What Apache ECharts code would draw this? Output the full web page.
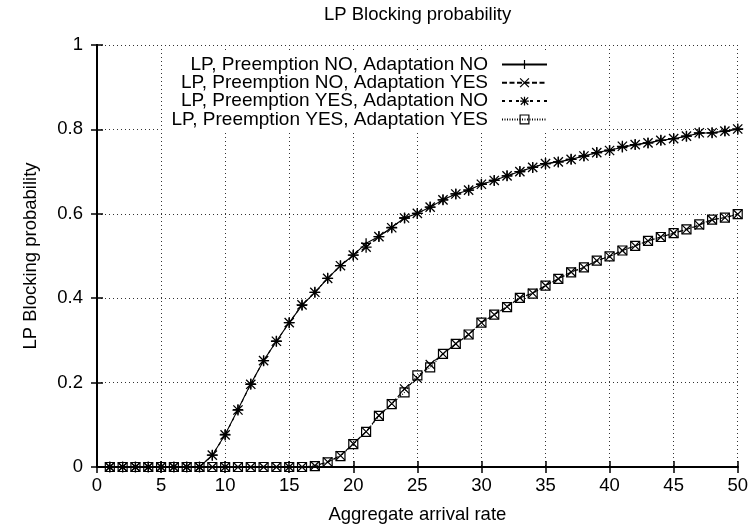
<!DOCTYPE html>
<html>
<head>
<meta charset="utf-8">
<title>LP Blocking probability</title>
<script src="https://cdn.jsdelivr.net/npm/echarts@6/dist/echarts.min.js"></script>
<style>
  html, body { margin: 0; padding: 0; background: #fff; }
  #chart { width: 751px; height: 529px; }
</style>
</head>
<body>
<div id="chart"></div>
<script>
// Aggregate arrival rate (x values)
const arrivalRates = [1, 2, 3, 4, 5, 6, 7, 8, 9, 10,
  11, 12, 13, 14, 15, 16, 17, 18, 19, 20,
  21, 22, 23, 24, 25, 26, 27, 28, 29, 30,
  31, 32, 33, 34, 35, 36, 37, 38, 39, 40,
  41, 42, 43, 44, 45, 46, 47, 48, 49, 50];

// LP blocking probability for each configuration
const preNoAdaptNo = [0, 0, 0, 0, 0, 0, 0, 0, 0.028, 0.077,
  0.136, 0.197, 0.252, 0.298, 0.342, 0.383, 0.414, 0.447, 0.477, 0.502,
  0.530, 0.546, 0.568, 0.590, 0.601, 0.616, 0.633, 0.647, 0.656, 0.670,
  0.679, 0.690, 0.700, 0.710, 0.719, 0.723, 0.729, 0.737, 0.745, 0.751,
  0.757, 0.764, 0.768, 0.774, 0.778, 0.784, 0.791, 0.792, 0.796, 0.800];

const preNoAdaptYes = [0, 0, 0, 0, 0, 0, 0, 0, 0, 0,
  0, 0, 0, 0, 0, 0, 0.003, 0.012, 0.027, 0.055,
  0.084, 0.122, 0.150, 0.185, 0.210, 0.243, 0.268, 0.292, 0.314, 0.342,
  0.361, 0.380, 0.401, 0.412, 0.430, 0.446, 0.462, 0.473, 0.489, 0.499,
  0.513, 0.524, 0.536, 0.545, 0.554, 0.563, 0.573, 0.586, 0.591, 0.599];

const preYesAdaptNo = [0, 0, 0, 0, 0, 0, 0, 0, 0.028, 0.076,
  0.135, 0.196, 0.252, 0.298, 0.342, 0.384, 0.414, 0.447, 0.477, 0.502,
  0.521, 0.546, 0.567, 0.590, 0.601, 0.616, 0.633, 0.647, 0.656, 0.670,
  0.679, 0.690, 0.700, 0.710, 0.719, 0.723, 0.729, 0.737, 0.745, 0.750,
  0.760, 0.764, 0.768, 0.774, 0.778, 0.784, 0.792, 0.792, 0.796, 0.801];

const preYesAdaptYes = [0, 0, 0, 0, 0, 0, 0, 0, 0, 0,
  0, 0, 0, 0, 0, 0, 0.002, 0.011, 0.026, 0.054,
  0.083, 0.121, 0.149, 0.177, 0.217, 0.236, 0.268, 0.292, 0.314, 0.342,
  0.361, 0.379, 0.401, 0.411, 0.430, 0.446, 0.461, 0.473, 0.489, 0.499,
  0.513, 0.524, 0.536, 0.545, 0.554, 0.563, 0.575, 0.586, 0.591, 0.599];

const seriesNames = [
  'LP, Preemption NO, Adaptation NO',
  'LP, Preemption NO, Adaptation YES',
  'LP, Preemption YES, Adaptation NO',
  'LP, Preemption YES, Adaptation YES'
];

// Axis extents and tick steps
const xRange = [0, 50], xStep = 5;
const yRange = [0, 1], yStep = 0.2;

// Point markers drawn as stroked outlines
const MARK_PLUS = 'path://M0,5L10,5M5,0L5,10';
const MARK_CROSS = 'path://M0,0L10,10M10,0L0,10';
const MARK_STAR = 'path://M0,5L10,5M5,0L5,10M0.8,0.8L9.2,9.2M9.2,0.8L0.8,9.2';
const MARK_BOX = 'path://M0,0L10,0L10,10L0,10Z';

const FONT = 'Liberation Sans, Arial, Helvetica, sans-serif';
const FONT_SIZE = 18.5;

function pairs(values) {
  return arrivalRates.map((x, i) => [x, values[i]]);
}

function makeSeries(name, values, symbol, size, dash, fill, markWidth) {
  return {
    name: name,
    type: 'line',
    data: pairs(values),
    symbol: symbol,
    symbolSize: size,
    symbolKeepAspect: true,
    showAllSymbol: true,
    lineStyle: { color: '#000', width: 1.1, type: dash },
    itemStyle: { color: fill, borderColor: '#000', borderWidth: markWidth },
    emphasis: { disabled: true },
    animation: false
  };
}

function axisLine() {
  return { lineStyle: { color: '#000', width: 2 } };
}
function innerTicks() {
  return { show: true, inside: true, length: 6, lineStyle: { color: '#000', width: 1.5 } };
}
function gridDots() {
  return { show: true, lineStyle: { color: '#333', width: 1, type: [1, 3] } };
}

const chart = echarts.init(document.getElementById('chart'), null, { renderer: 'canvas' });

chart.setOption({
  backgroundColor: '#fff',
  animation: false,
  textStyle: { fontFamily: FONT, color: '#000' },
  title: {
    text: 'LP Blocking probability',
    left: 324,
    top: 5,
    padding: 0,
    textStyle: { fontFamily: FONT, fontSize: FONT_SIZE, fontWeight: 'normal', color: '#000' }
  },
  grid: { left: 97, right: 13, top: 45, bottom: 60, containLabel: false },
  legend: {
    orient: 'vertical',
    align: 'right',
    right: 199,
    top: 51,
    padding: [4, 4, 2, 8],
    itemGap: -0.7,
    itemWidth: 45,
    itemHeight: 11,
    backgroundColor: '#fff',
    selectedMode: false,
    data: seriesNames,
    itemStyle: { borderColor: '#000', borderWidth: 1.2 },
    textStyle: {
      fontFamily: FONT, fontSize: 19, color: '#000',
      lineHeight: 18.3, padding: [0, 9, 0, 0]
    }
  },
  xAxis: [{
    type: 'value',
    min: xRange[0], max: xRange[1], interval: xStep,
    name: 'Aggregate arrival rate',
    nameLocation: 'middle',
    nameGap: 38,
    nameTextStyle: { fontFamily: FONT, fontSize: FONT_SIZE, color: '#000' },
    axisLine: axisLine(),
    axisTick: innerTicks(),
    axisLabel: { fontFamily: FONT, fontSize: FONT_SIZE, color: '#000', margin: 9 },
    splitLine: gridDots()
  }, {
    type: 'value',
    position: 'top',
    min: xRange[0], max: xRange[1], interval: xStep,
    axisLine: axisLine(),
    axisTick: innerTicks(),
    axisLabel: { show: false },
    splitLine: { show: false }
  }],
  yAxis: [{
    type: 'value',
    min: yRange[0], max: yRange[1], interval: yStep,
    name: 'LP Blocking probability',
    nameLocation: 'middle',
    nameGap: 57,
    nameTextStyle: { fontFamily: FONT, fontSize: FONT_SIZE, color: '#000' },
    axisLine: axisLine(),
    axisTick: innerTicks(),
    axisLabel: { fontFamily: FONT, fontSize: FONT_SIZE, color: '#000', margin: 14 },
    splitLine: gridDots()
  }, {
    type: 'value',
    position: 'right',
    min: yRange[0], max: yRange[1], interval: yStep,
    axisLine: axisLine(),
    axisTick: innerTicks(),
    axisLabel: { show: false },
    splitLine: { show: false }
  }],
  series: [
    makeSeries(seriesNames[0], preNoAdaptNo, MARK_PLUS, 10, 'solid', '#000', 1.3),
    makeSeries(seriesNames[1], preNoAdaptYes, MARK_CROSS, 9, [5, 2.5], '#000', 1.2),
    makeSeries(seriesNames[2], preYesAdaptNo, MARK_STAR, 11, [3, 4], '#000', 1.3),
    makeSeries(seriesNames[3], preYesAdaptYes, MARK_BOX, 9, [1, 1.5], 'rgba(0,0,0,0)', 1.2)
  ]
});
</script>
</body>
</html>
